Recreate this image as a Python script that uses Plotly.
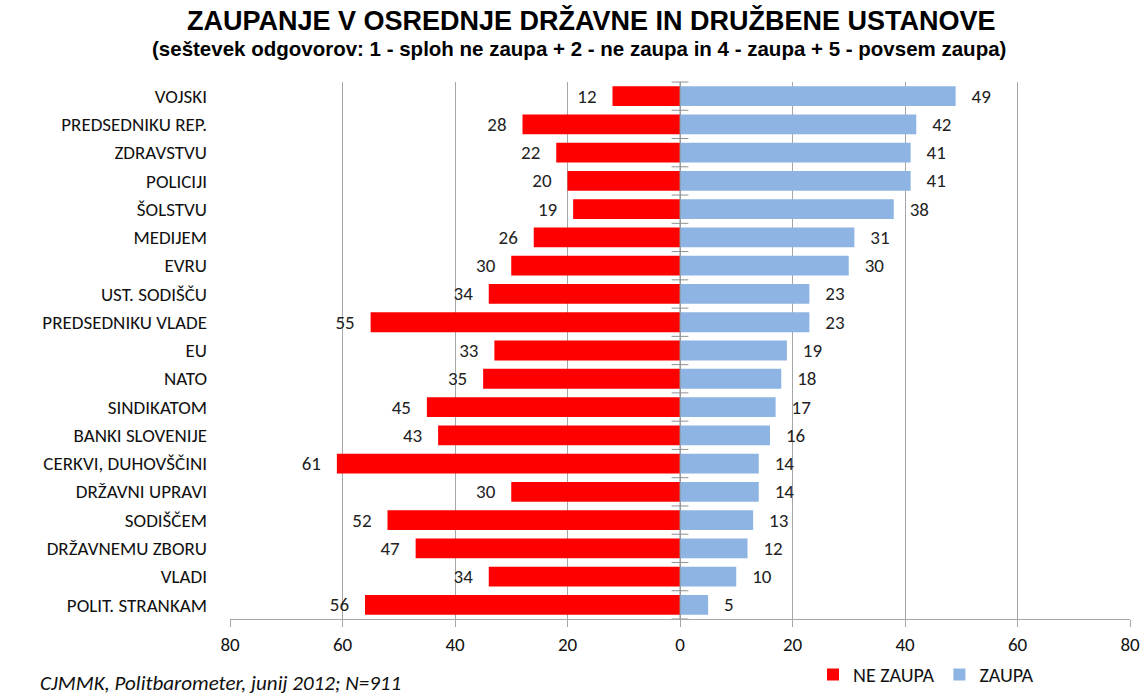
import plotly.graph_objects as go

categories = ["VOJSKI", "PREDSEDNIKU REP.", "ZDRAVSTVU", "POLICIJI", "ŠOLSTVU", "MEDIJEM",
              "EVRU", "UST. SODIŠČU", "PREDSEDNIKU VLADE", "EU", "NATO", "SINDIKATOM",
              "BANKI SLOVENIJE", "CERKVI, DUHOVŠČINI", "DRŽAVNI UPRAVI", "SODIŠČEM",
              "DRŽAVNEMU ZBORU", "VLADI", "POLIT. STRANKAM"]
ne_zaupa = [12, 28, 22, 20, 19, 26, 30, 34, 55, 33, 35, 45, 43, 61, 30, 52, 47, 34, 56]
zaupa = [49, 42, 41, 41, 38, 31, 30, 23, 23, 19, 18, 17, 16, 14, 14, 13, 12, 10, 5]
x_ticks = [-80, -60, -40, -20, 0, 20, 40, 60, 80]
x_tick_labels = ["80", "60", "40", "20", "0", "20", "40", "60", "80"]

LABEL_FONT = "Carlito, Calibri, Lato, sans-serif"
TITLE_FONT = "Liberation Sans Narrow, Arial Narrow, Liberation Sans, Arial, sans-serif"
PAD = "\u00a0\u00a0\u00a0"

W, H = 1145, 695
# plot area in page pixels
PL, PR, PT, PB = 230, 1130, 82, 619
PH = PB - PT
PW = PR - PL

fig = go.Figure()
fig.add_trace(go.Bar(
    y=categories, x=[-v for v in ne_zaupa], orientation="h", name="NE ZAUPA",
    marker=dict(color="#FF0000", line=dict(width=0)),
    text=[str(v) + PAD for v in ne_zaupa], textposition="outside", cliponaxis=False,
    constraintext="none",
    textfont=dict(family=LABEL_FONT, size=19, color="#222222"), width=0.7,
))
fig.add_trace(go.Bar(
    y=categories, x=zaupa, orientation="h", name="ZAUPA",
    marker=dict(color="#8DB4E2", line=dict(width=0)),
    text=[PAD + str(v) for v in zaupa], textposition="outside", cliponaxis=False,
    constraintext="none",
    textfont=dict(family=LABEL_FONT, size=19, color="#222222"), width=0.7,
))

# small cross ticks on the zero axis between categories
boundaries = [i - 0.5 for i in range(len(categories) + 1)]
fig.add_trace(go.Scatter(
    x=[0] * len(boundaries), y=boundaries, mode="markers", yaxis="y2",
    marker=dict(symbol="line-ew", size=12, line=dict(color="#909090", width=1)),
    showlegend=False, hoverinfo="skip", cliponaxis=False,
))

fig.update_layout(
    width=W, height=H,
    barmode="relative",
    plot_bgcolor="white", paper_bgcolor="white",
    margin=dict(l=PL, r=W - PR, t=PT, b=H - PB, autoexpand=False),
    font=dict(family=LABEL_FONT, size=15, color="#111111"),
    xaxis=dict(range=[-80, 80], tickvals=x_ticks, ticktext=x_tick_labels,
               showgrid=True, gridcolor="#A6A6A6", gridwidth=1,
               zeroline=False, showline=True, linecolor="#A6A6A6",
               ticks="outside", ticklen=7, tickcolor="#A6A6A6",
               ticklabelstandoff=1, automargin=False,
               tickfont=dict(family=LABEL_FONT, size=19, color="#111111")),
    yaxis=dict(autorange="reversed", showgrid=False, zeroline=False, showline=False,
               ticklabelstandoff=22, automargin=False,
               tickfont=dict(family=LABEL_FONT, size=19, color="#111111")),
    yaxis2=dict(overlaying="y", range=[len(categories) - 0.5, -0.5], visible=False),
    legend=dict(orientation="h", x=(813 - PL) / PW, y=(PB - 694) / PH,
                xanchor="left", yanchor="bottom",
                font=dict(family=LABEL_FONT, size=20, color="#111111"),
                itemwidth=30, traceorder="normal"),
    bargap=0.3,
    showlegend=True,
)
fig.add_shape(type="line", xref="x", yref="paper", x0=0, x1=0, y0=0, y1=1,
              line=dict(color="#909090", width=1), layer="above")

fig.add_annotation(text="<b>ZAUPANJE V OSREDNJE DRŽAVNE IN DRUŽBENE USTANOVE</b>",
                   xref="paper", yref="paper", x=(591 - PL) / PW, y=(PB - 21) / PH,
                   xanchor="center", yanchor="middle", showarrow=False,
                   font=dict(family=TITLE_FONT, size=27, color="#000000"))
fig.add_annotation(text="<b>(seštevek odgovorov: 1 - sploh ne zaupa + 2 - ne zaupa in 4 - zaupa + 5 - povsem zaupa)</b>",
                   xref="paper", yref="paper", x=(579 - PL) / PW, y=(PB - 49) / PH,
                   xanchor="center", yanchor="middle", showarrow=False,
                   font=dict(family=TITLE_FONT, size=20.5, color="#000000"))
fig.add_annotation(text="<i>CJMMK, Politbarometer, junij 2012; N=911</i>",
                   xref="paper", yref="paper", x=(38 - PL) / PW, y=(PB - 683) / PH,
                   xanchor="left", yanchor="middle", showarrow=False,
                   font=dict(family=LABEL_FONT, size=21, color="#111111"))

fig.write_html("out.html", config={"displayModeBar": False},
               post_script="document.body.style.margin='0px';")
